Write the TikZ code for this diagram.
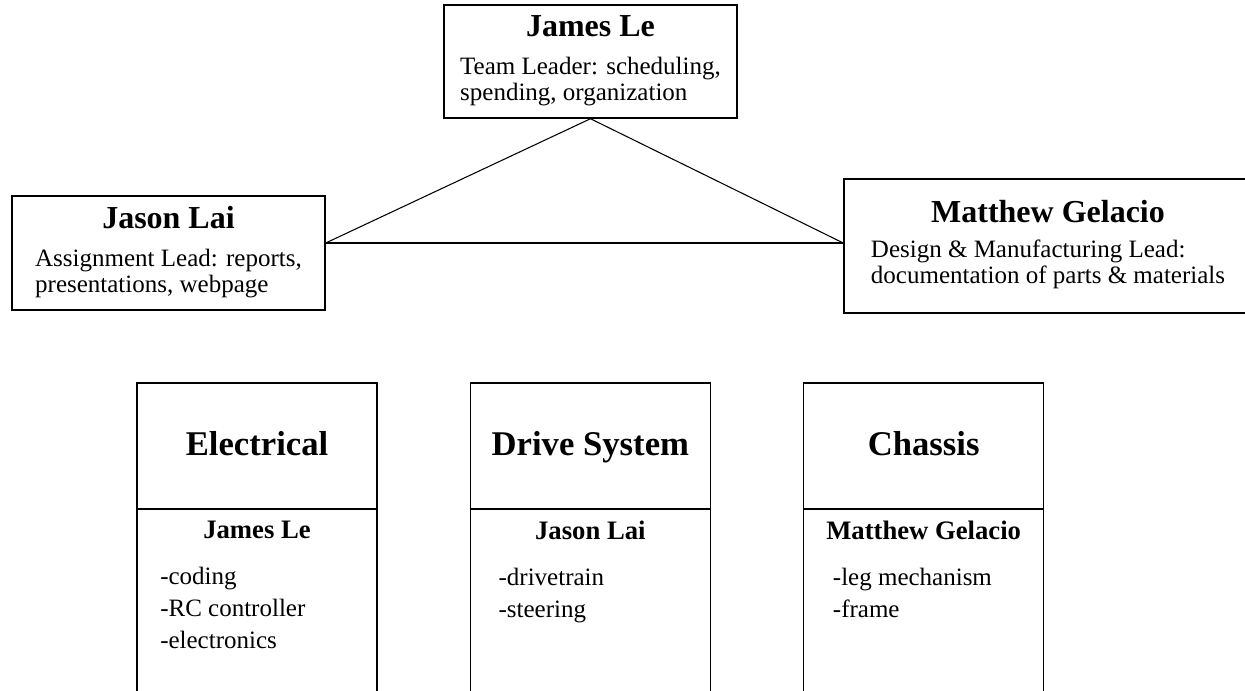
\documentclass[tikz,border=0pt]{standalone}
\usepackage{fontspec}
\setmainfont{Liberation Serif}
\usepackage{tikz}
\usetikzlibrary{calc,positioning}

\newcommand{\namefont}{\bfseries\fontsize{24}{26}\selectfont}
\newcommand{\bodyfont}{\fontsize{18.75}{19.5}\selectfont}

\begin{document}
\begin{tikzpicture}[x=0.75pt,y=-0.75pt,node distance=70pt]
	\tikzstyle{leader} = [draw, rectangle, line width=1.1pt, inner sep=0pt, align=center, font=\bodyfont]
	\tikzstyle{head} = [draw, rectangle, line width=1.1pt, outer sep=0pt, minimum width=180pt, minimum height=94.5pt, text height=18pt, text depth=4.5pt, font=\bfseries\fontsize{26}{28}\selectfont]
	\tikzstyle{section} = [draw, rectangle, line width=1.1pt, outer sep=0pt, minimum width=180pt, minimum height=150pt]
	\tikzstyle{who} = [inner sep=0pt, font=\bfseries\fontsize{20}{22}\selectfont]
	\tikzstyle{duties} = [inner sep=0pt, align=left, anchor=north west, font=\fontsize{18.75}{24}\selectfont]
	
	\useasboundingbox (0,0) rectangle (1245,691);
	\clip (0,0) rectangle (1245,691);
	
	% leads
	\node [leader, minimum width=219.75pt, minimum height=84.75pt] (james) at (590.5,61.5) {{\namefont James Le}\\[9pt]\begin{tabular}[t]{@{}l@{}}Team Leader: scheduling,\\spending, organization\end{tabular}};
	\node [leader, minimum width=234.75pt, minimum height=85.5pt] (jason) at (168.5,253) {{\namefont Jason Lai}\\[9pt]\begin{tabular}[t]{@{}l@{}}Assignment Lead: reports,\\presentations, webpage\end{tabular}};
	\node [leader, minimum width=306pt, minimum height=100.5pt] (matthew) at (1048,246) {{\namefont Matthew Gelacio}\\[7pt]\begin{tabular}[t]{@{}l@{}}Design \& Manufacturing Lead:\\documentation of parts \& materials\end{tabular}};
	
	\coordinate (jasonport) at ([yshift=7.5pt]jason.east);
	\coordinate (matthewport) at ([yshift=2.25pt]matthew.west);
	
	\draw [-, line width=0.8pt] (james.south) -- (jasonport);
	\draw [-, line width=0.8pt] (james.south) -- (matthewport);
	\draw [-, line width=0.8pt] (jasonport) -- (matthewport);
	
	% subsystems
	\node [head] (elec) at (257,446) {Electrical};
	\node [head, right=of elec] (drive) {Drive System};
	\node [head, right=of drive] (chassis) {Chassis};
	
	\node [section, below=0pt of elec] (elecbody) {};
	\node [section, below=0pt of drive] (drivebody) {};
	\node [section, below=0pt of chassis] (chassisbody) {};
	
	\node [who, below=9pt of elecbody.north] (elecwho) {James Le};
	\node [who, below=9pt of drivebody.north] (drivewho) {Jason Lai};
	\node [who, below=9pt of chassisbody.north] (chassiswho) {Matthew Gelacio};
	
	\node [duties] (elecjobs) at ($(elecbody.north west |- elecwho.south)+(23,28)$) {-coding\\-RC controller\\-electronics};
	\node [duties] (drivejobs) at ($(drivebody.north west |- drivewho.south)+(28,28)$) {-drivetrain\\-steering};
	\node [duties] (chassisjobs) at ($(chassisbody.north west |- chassiswho.south)+(29,28)$) {-leg mechanism\\-frame};
	
\end{tikzpicture}
\end{document}
